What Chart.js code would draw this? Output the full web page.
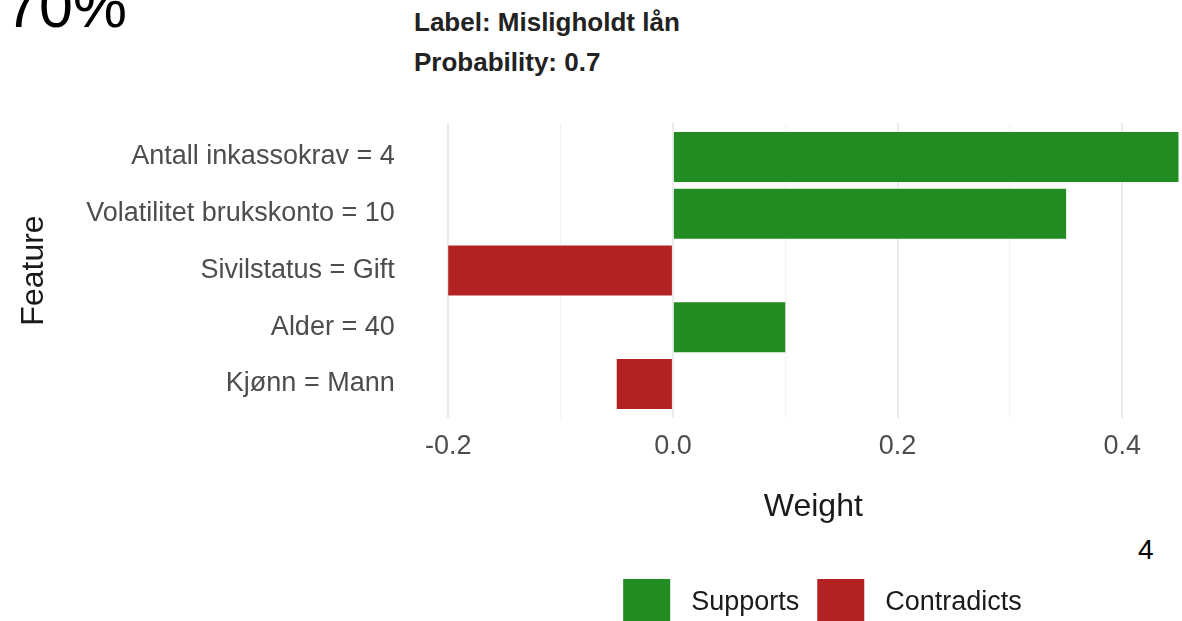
<!DOCTYPE html>
<html>
<head>
<meta charset="utf-8">
<script src="https://cdn.jsdelivr.net/npm/chart.js@4.4.1/dist/chart.umd.min.js"></script>
<style>
  html, body { margin: 0; padding: 0; background: #fff; overflow: hidden; width: 1182px; height: 621px; }
  body { position: relative; font-family: "Liberation Sans", Arial, sans-serif; }
  #big-pct { position: absolute; left: 5px; top: -24px; font-size: 61px; line-height: 61px; color: #000; }
  #plot-title { position: absolute; left: 414px; top: 2px; font-size: 26px; line-height: 40px; font-weight: bold; color: #222; }
  #page-num { position: absolute; left: 1138px; top: 536px; font-size: 28px; line-height: 28px; color: #000; }
  #chart-wrap { position: absolute; left: 0; top: 0; }
</style>
</head>
<body>
<div id="big-pct">70%</div>
<div id="plot-title">Label: Misligholdt lån<br>Probability: 0.7</div>
<div id="page-num">4</div>
<div id="chart-wrap"><canvas id="lime-chart" width="1645" height="636"></canvas></div>

<script>
const FEATURES = [
  "Antall inkassokrav = 4",
  "Volatilitet brukskonto = 10",
  "Sivilstatus = Gift",
  "Alder = 40",
  "Kjønn = Mann"
];

const SUPPORTS    = [0.45, 0.35, null, 0.1, null];
const CONTRADICTS = [null, null, -0.2, null, -0.05];

const X_MIN = -0.2325;
const X_MAX = 0.4825;

const GREEN = "#228B22";
const RED   = "#B22222";

Chart.defaults.font.family = "'Liberation Sans', Arial, sans-serif";

function toPoints(values) {
  return values
    .map((v, i) => ({ x: v, y: i }))
    .filter(p => p.x !== null);
}

function isMajor(v) {
  return Math.round(v * 10) % 2 === 0;
}

new Chart(document.getElementById("lime-chart"), {
  type: "bar",
  data: {
    datasets: [
      { label: "Supports", data: toPoints(SUPPORTS), backgroundColor: GREEN, grouped: false, barPercentage: 0.88, categoryPercentage: 1 },
      { label: "Contradicts", data: toPoints(CONTRADICTS), backgroundColor: RED, grouped: false, barPercentage: 0.88, categoryPercentage: 1 }
    ]
  },
  options: {
    indexAxis: "y",
    responsive: false,
    animation: false,
    layout: { padding: { top: 123, left: 0, right: 0, bottom: 0 } },
    plugins: {
      tooltip: { enabled: false },
      legend: {
        position: "bottom",
        labels: {
          boxWidth: 47,
          boxHeight: 47,
          padding: 18,
          color: "#1a1a1a",
          font: { size: 27 },
          generateLabels: chart => Chart.defaults.plugins.legend.labels.generateLabels(chart)
            .map(l => Object.assign(l, { text: " " + l.text, lineWidth: 0 }))
        }
      }
    },
    scales: {
      x: {
        type: "linear",
        min: X_MIN,
        max: X_MAX,
        border: { display: false },
        grid: {
          drawTicks: false,
          color: c => isMajor(c.tick.value) ? "#ebebeb" : "#f2f2f2",
          lineWidth: c => isMajor(c.tick.value) ? 2 : 1.2
        },
        ticks: {
          stepSize: 0.1,
          includeBounds: false,
          autoSkip: false,
          maxRotation: 0,
          padding: 12,
          color: "#4d4d4d",
          font: { size: 27 },
          callback: v => isMajor(v) ? v.toFixed(1) : ""
        },
        title: {
          display: true,
          text: "Weight",
          color: "#1a1a1a",
          font: { size: 32 },
          padding: { top: 0, bottom: 35 }
        },
        afterFit: s => { s.height = 143; }
      },
      y: {
        type: "linear",
        min: -0.6,
        max: 4.6,
        reverse: true,
        offset: false,
        border: { display: false },
        grid: { display: false, drawTicks: false, offset: false },
        ticks: {
          stepSize: 1,
          includeBounds: false,
          autoSkip: false,
          padding: 17,
          color: "#4d4d4d",
          font: { size: 27 },
          callback: v => FEATURES[v] ?? ""
        },
        title: {
          display: true,
          text: "Feature",
          color: "#1a1a1a",
          font: { size: 32 },
          padding: { top: 15, bottom: 0 }
        },
        afterFit: s => { s.width = 411.7; }
      },
      // empty right-hand space, the original plot is wider than the crop
      y2: {
        type: "linear",
        position: "right",
        border: { display: false },
        grid: { display: false },
        ticks: { display: false },
        afterFit: s => { s.width = 430; }
      }
    }
  }
});
</script>
</body>
</html>
